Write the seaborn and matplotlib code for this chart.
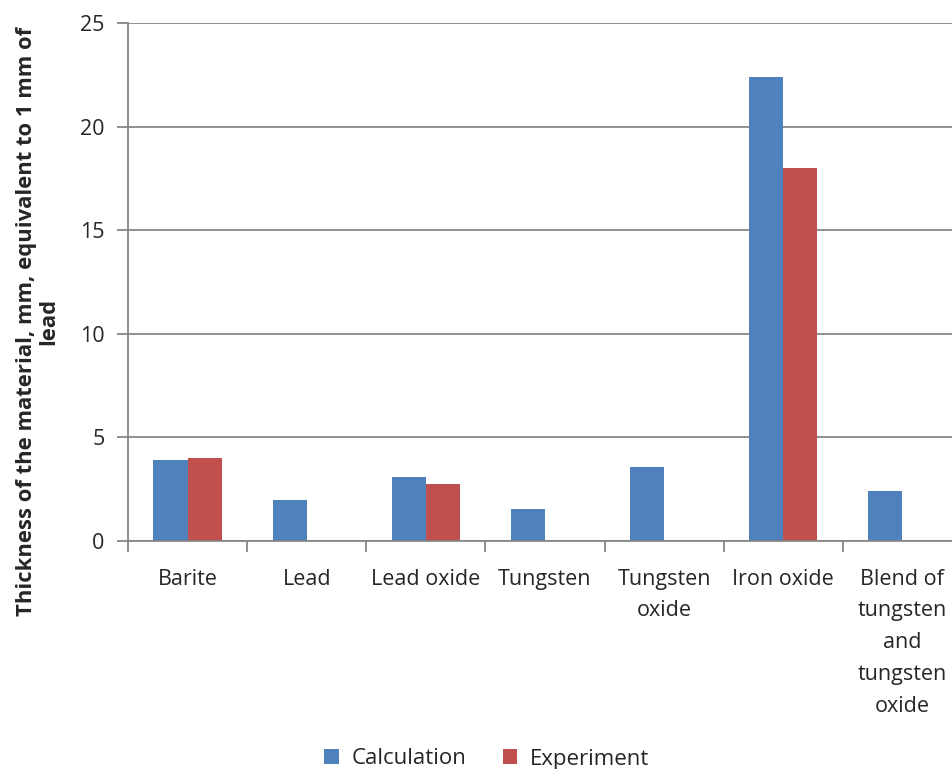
import matplotlib
matplotlib.use("Agg")
import matplotlib.pyplot as plt
from matplotlib.ticker import FixedLocator, NullFormatter
from matplotlib.patches import Patch
import numpy as np
import pandas as pd
import seaborn as sns

materials = ["Barite", "Lead", "Lead oxide", "Tungsten", "Tungsten\noxide",
             "Iron oxide", "Blend of\ntungsten\nand\ntungsten\noxide"]
calculation = [3.9, 2.0, 3.07, 1.53, 3.58, 22.4, 2.39]
experiment = [4.0, np.nan, 2.74, np.nan, np.nan, 18.0, np.nan]
series = ["Calculation", "Experiment"]
colors = ["#4F81BD", "#C0504D"]
y_ticks = [0, 5, 10, 15, 20, 25]

df = pd.DataFrame({
    "material": materials * 2,
    "value": calculation + experiment,
    "series": [series[0]] * len(materials) + [series[1]] * len(materials),
})

sns.set_style("white")
plt.rcParams["font.family"] = ["Open Sans", "DejaVu Sans"]

fig = plt.figure(figsize=(9.53, 7.69), dpi=100)
W, H = 953, 769
ax = fig.add_axes([128 / W, 1 - 541 / H, (962 - 128) / W, (541 - 23) / H])

sns.barplot(data=df, x="material", y="value", hue="series", order=materials,
            hue_order=series, palette=colors, width=0.572, gap=0,
            saturation=1, linewidth=0, legend=False, ax=ax)

ax.set_xlim(-0.5, len(materials) - 0.5)
ax.set_ylim(0, 25)
ax.set_yticks(y_ticks)
ax.yaxis.grid(True, color="#878787", linewidth=1.3)
ax.set_axisbelow(True)
for side in ["top", "right"]:
    ax.spines[side].set_visible(False)
for side in ["left", "bottom"]:
    ax.spines[side].set_color("#878787")
    ax.spines[side].set_linewidth(1.3)

ax.tick_params(axis="y", which="major", direction="out", length=8, width=1.3,
               color="#878787", labelsize=15.5, pad=9, left=True)
ax.tick_params(axis="x", which="major", length=0, labelsize=15.5, pad=20)
ax.xaxis.set_minor_locator(FixedLocator(np.arange(-0.5, len(materials), 1.0)))
ax.xaxis.set_minor_formatter(NullFormatter())
ax.tick_params(axis="x", which="minor", direction="out", length=8, width=1.3,
               color="#878787", bottom=True)
for lbl in ax.get_xticklabels():
    lbl.set_linespacing(1.67)
    lbl.set_verticalalignment("top")

ax.set_xlabel("")
ax.set_ylabel("Thickness of the material, mm, equivalent to 1 mm of\nlead",
              fontsize=15.8, fontweight="bold", linespacing=1.1)
ax.yaxis.set_label_coords(-0.082, 0.423)

handles = [Patch(facecolor=c, edgecolor="none") for c in colors]
fig.legend(handles, series, loc="center", bbox_to_anchor=(487 / W, 1 - 759 / H),
           ncol=2, frameon=False, fontsize=16, handlelength=0.65,
           handleheight=0.65, handletextpad=0.6, columnspacing=1.6)

fig.savefig("out.png", dpi=100)
